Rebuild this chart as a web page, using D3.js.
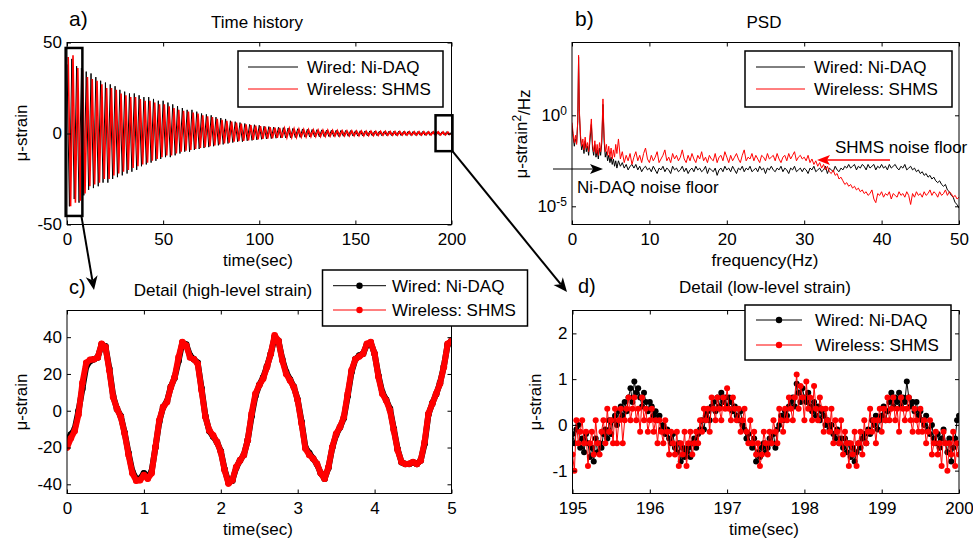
<!DOCTYPE html>
<html lang="en">
<head>
<meta charset="UTF-8">
<title>Wired vs wireless strain</title>
<script src="https://cdn.jsdelivr.net/npm/d3@7"></script>
<style>
    body { margin: 0; background: #fff; }
    text { font-family: "Liberation Sans", Arial, sans-serif; fill: #000; }
</style>
</head>
<body>
<svg id="fig" width="973" height="541"></svg>

<script>

    // a) time history, extrema read every 1.25 s (wireless read half a step later)
    const historyStep = 1.25;
    const wiredHistoryStart = 0;
    const wirelessHistoryStart = 0.625;
    const wiredHistory = [
        38,-40,41,-36,37,-38,36,-34, 34,-31,33,-30,31,-29,29,-27,
        28,-27,27,-25,26,-24,24,-23, 23,-22,22,-21,22,-20,21,-18,
        20,-17,20,-16,19,-15,18,-14, 18,-13,17,-13,16,-12,15,-11,
        14,-10,13,-10,13,-9,12,-8.5, 11,-8,10.5,-7.5,10,-7,9,-6.5,
        8.5,-6,8,-5.5,7,-5,6.5,-4.5, 6,-4.5,5.5,-4,5,-3.8,4.8,-3.5,
        4.5,-3.2,4,-3,3.8,-2.8,3.5,-2.6, 3.4,-2.5,3.2,-2.4,3,-2.3,2.8,-2.2,
        2.6,-2.1,2.5,-2,2.3,-1.9,2.2,-1.8, 2.1,-1.8,2,-1.7,1.9,-1.7,1.8,-1.6,
        1.8,-1.6,1.7,-1.5,1.7,-1.5,1.6,-1.4, 1.5,-1.4,1.5,-1.3,1.4,-1.3,1.4,-1.2,
        1.3,-1.2,1.3,-1.2,1.2,-1.1,1.3,-1.1, 1.2,-1.1,1.2,-1.1,1.1,-1,1.2,-1,
        1.1,-1,1.1,-1,1.1,-1,1,-1, 1,-0.9,1,-1,0.9,-0.9,1,-0.9,
        0.8
    ];
    const wirelessHistory = [
        42,-40,43,-38,36,-37,35,-33, 31,-29,30,-28,29,-27,27,-25,
        25,-25,25,-23,24,-22,22,-21, 21,-20,20,-19,20,-18,19,-17,
        18,-16,18,-15,17,-14,16,-13, 16,-12,15,-12,14,-11,13,-10,
        12.5,-9.5,12,-9,11.5,-8.5,11,-8, 10,-7.5,9.5,-7,9,-6.5,8,-6,
        7.5,-5.5,7,-5,6.5,-4.5,6,-4.2, 5.5,-4,5,-3.8,4.6,-3.5,4.3,-3.2,
        4,-3,3.7,-2.8,3.5,-2.6,3.2,-2.4, 3,-2.3,2.8,-2.2,2.7,-2.1,2.5,-2,
        2.4,-1.9,2.2,-1.8,2.1,-1.7,2,-1.6, 1.9,-1.6,1.8,-1.5,1.8,-1.5,1.7,-1.4,
        1.6,-1.4,1.6,-1.3,1.5,-1.3,1.5,-1.2, 1.4,-1.2,1.4,-1.2,1.3,-1.1,1.3,-1.1,
        1.2,-1.1,1.2,-1,1.2,-1,1.1,-1, 1.1,-1,1.1,-0.9,1,-0.9,1,-0.9,
        1,-0.9,1,-0.9,1,-0.8,0.9,-0.8, 0.9,-0.8,0.9,-0.8,0.9,-0.8,0.8,-0.8
    ];

    // b) PSD, log10 values; low band read at uneven frequencies, then every 0.25 Hz
    const psdLowFreq = [0,0.15,0.3,0.45,0.6,0.75,0.85,0.95,1.1,1.25,
        1.4,1.55,1.7,1.85,2.0,2.15,2.3,2.5,2.65,2.8,
        2.95,3.1,3.25,3.4,3.55,3.7,3.85,4.0,4.15,4.3,
        4.45,4.6,4.75,4.9,5.05,5.2,5.35,5.5,5.65,5.8];
    const psdHighFreq = d3.range(6, 50.001, 0.25);
    const wiredPsdLow = [-0.6,-1.2,-1.7,-1.3,-1.5,-0.3,3.2,0.2,-1.3,-1.9,
        -1.6,-2.1,-1.4,-2.0,-1.7,-2.2,-1.5,-0.5,-1.8,-2.2,
        -1.6,-2.3,-1.9,-2.4,-1.8,-2.2,-1.5,0.6,-1.4,-2.3,
        -2.0,-2.5,-2.2,-2.6,-2.3,-2.7,-2.4,-2.8,-2.5,-2.9];
    const wiredPsdHigh = [
        -2.5,-2.8,-2.6,-2.9,-2.7,-3.0,-2.8,-2.7, -2.9,-2.7,-3.0,-2.8,-3.1,-2.9,-2.8,-3.0,
        -2.9,-3.1,-2.8,-3.0,-3.2,-2.9,-3.0,-2.8, -3.1,-2.9,-3.0,-3.2,-2.8,-3.0,-2.9,-3.1,
        -3.0,-2.8,-3.1,-2.9,-3.2,-3.0,-2.9,-3.1, -2.8,-3.0,-2.9,-3.1,-3.0,-2.8,-3.2,-2.9,
        -3.0,-3.1,-2.9,-3.3,-3.0,-2.9,-3.1,-2.8, -3.0,-2.9,-3.1,-2.8,-3.0,-3.2,-2.9,-3.0,
        -2.8,-3.1,-2.9,-3.0,-2.8,-3.1,-3.0,-2.9, -3.1,-2.8,-3.0,-2.9,-3.2,-2.9,-3.0,-2.8,
        -3.0,-3.1,-2.9,-3.0,-2.8,-3.1,-2.9,-3.0, -3.2,-2.9,-3.0,-2.8,-3.1,-3.0,-2.9,-3.1,
        -2.9,-3.0,-3.2,-2.9,-3.0,-2.8,-3.1,-3.0, -2.9,-3.1,-3.0,-2.8,-3.2,-2.9,-3.0,-3.1,
        -2.8,-3.0,-3.1,-2.9,-3.0,-2.8,-2.9,-2.7, -2.9,-2.8,-2.7,-3.0,-2.8,-2.9,-2.7,-2.8,
        -3.0,-2.7,-2.9,-2.8,-2.7,-3.0,-2.8,-2.9, -2.7,-2.9,-2.8,-3.0,-2.7,-2.9,-2.8,-2.7,
        -2.9,-3.0,-2.8,-2.9,-2.7,-3.0,-2.9,-2.8, -3.0,-2.9,-3.1,-3.0,-3.2,-3.1,-3.3,-3.2,
        -3.4,-3.3,-3.5,-3.4,-3.6,-3.7,-3.6,-3.8, -3.9,-3.8,-4.1,-4.2,-4.4,-4.5,-4.8,-4.9,
        -5.1];
    const wirelessPsdLow = [-0.4,-1.0,-1.5,-1.1,-1.6,-0.2,3.3,0.3,-1.1,-1.7,
        -1.3,-1.9,-1.2,-1.8,-1.5,-2.0,-1.2,-0.2,-1.6,-2.0,
        -1.4,-2.1,-1.6,-2.2,-1.5,-2.0,-1.2,0.9,-1.2,-2.0,
        -1.6,-2.2,-1.7,-2.3,-1.8,-2.4,-1.9,-2.3,-1.6,-2.1];
    const wirelessPsdHigh = [
        -1.3,-2.4,-2.0,-2.6,-2.2,-2.5,-2.1,-2.7, -2.3,-2.0,-2.5,-2.2,-2.6,-2.1,-1.8,-2.4,
        -2.6,-2.2,-2.5,-2.3,-2.0,-2.6,-2.4,-2.2, -1.9,-2.5,-2.3,-2.6,-2.1,-2.4,-2.2,-2.5,
        -2.3,-1.9,-2.4,-2.6,-2.2,-2.5,-2.1,-2.4, -2.6,-2.2,-2.4,-2.0,-2.5,-2.3,-2.6,-2.2,
        -2.4,-2.5,-2.1,-2.6,-2.3,-2.2,-2.5,-2.0, -2.3,-2.6,-2.2,-2.5,-2.3,-2.1,-2.4,-2.6,
        -2.2,-1.9,-2.5,-2.3,-2.4,-2.1,-2.5,-2.2, -2.4,-2.6,-2.2,-2.3,-2.5,-2.1,-2.4,-2.3,
        -2.2,-2.5,-2.1,-2.4,-2.6,-2.3,-2.2,-2.5, -2.1,-2.4,-2.2,-2.0,-2.5,-2.3,-2.2,-2.4,
        -2.3,-2.5,-2.2,-2.6,-2.4,-2.7,-2.5,-2.8, -2.6,-2.9,-2.7,-3.0,-2.8,-3.1,-3.2,-3.0,
        -3.3,-3.2,-3.5,-3.4,-3.6,-3.8,-3.7,-3.9, -3.8,-4.0,-3.9,-4.1,-4.0,-4.2,-4.1,-4.3,
        -4.2,-4.4,-4.3,-4.1,-4.6,-4.8,-4.3,-4.4, -4.2,-4.5,-4.3,-4.4,-4.2,-4.6,-4.3,-4.4,
        -4.5,-4.2,-4.4,-4.3,-4.5,-4.2,-4.4,-4.9, -4.3,-4.5,-4.2,-4.4,-4.3,-4.5,-4.2,-4.4,
        -4.3,-4.1,-4.4,-4.2,-4.3,-4.5,-4.2,-4.4, -4.3,-4.1,-4.4,-4.2,-4.3,-4.5,-4.4,-4.6,
        -4.5];

    // c) detail 0-5 s, every 0.05 s
    const highStep = 0.05;
    const wiredHigh = [-16,-13,-10,0,12,24,27,28,29,36,
        35,23,8,1,-3,-12,-23,-33,-37,-37,
        -34,-36,-33,-20,-6,2,5,13,18,27,
        37,36,30,28,26,12,-3,-11,-14,-17,
        -22,-32,-39,-38,-31,-27,-24,-16,-3,8,
        14,18,24,31,40,38,28,21,17,13,
        6,-6,-20,-23,-26,-29,-34,-37,-31,-20,
        -13,-9,-4,8,21,28,30,31,36,37,
        31,19,10,6,1,-10,-21,-28,-29,-29,
        -28,-29,-27,-18,-2,4,9,15,24,36,
        38];
    const wirelessHigh = [-20,-15,-11,-2,15,26,27.7,28,29,36.4,
        34.6,22,7.4,1,-3.4,-12.5,-24,-34,-38,-37.8,
        -35,-37,-34,-19.7,-5.2,2,4.7,12.8,18.3,29,
        37.3,35.5,29,28,25.5,11,-3.4,-10.7,-13.4,-17,
        -22.4,-32.4,-39.6,-37.8,-30.6,-27,-24,-16,-1.6,9.2,
        13.8,17.4,23.7,31,41,38,27.3,20,16.5,12.8,
        5.6,-7,-20.6,-24,-26,-28.8,-34,-37,-30.6,-19.7,
        -12.5,-8.9,-3.4,9.2,22,28,29.5,31,36.4,37.3,
        31,18.3,9.2,5.6,0.2,-10.7,-21.5,-27.9,-29,-28.8,
        -27.9,-29,-27,-17,-1.6,3.8,9.2,14.7,23.7,36.4,
        38];

    // d) detail 195-200 s, every 0.025 s
    const lowStart = 195;
    const lowStep = 0.025;
    const wiredLow = [
        -0.2,-0.4,-0.1,0.0,-0.5,-0.3,-0.6,-0.2,-0.4,-0.7,-0.5,-0.8,-0.3,-0.6,-0.4,-0.5,-0.2,-0.1,-0.3,0.1,
        -0.2,0.1,0.2,0.0,0.3,0.4,0.2,0.5,0.3,0.6,0.8,0.5,0.95,0.7,0.8,0.6,0.4,0.7,0.5,0.3,
        0.5,0.4,0.2,0.3,0.1,0.2,-0.1,0.0,-0.2,-0.1,-0.3,-0.4,-0.2,-0.5,-0.6,-0.4,-0.8,-0.5,-0.7,-0.6,
        -0.5,-0.7,-0.4,-0.3,-0.5,-0.2,-0.1,0.1,-0.1,0.2,0.3,0.1,0.4,0.5,0.3,0.6,0.4,0.7,0.5,0.6,
        0.4,0.6,0.5,0.3,0.4,0.2,0.1,0.3,0.0,-0.1,-0.3,-0.2,-0.4,-0.5,-0.3,-0.8,-0.6,-0.7,-0.5,-0.4,
        -0.6,-0.5,-0.3,-0.4,-0.2,-0.5,-0.1,0.0,0.2,0.1,0.3,0.2,0.4,0.5,0.6,0.4,0.9,0.7,0.5,0.8,
        0.6,0.5,0.7,0.4,0.3,0.5,0.2,0.4,0.1,0.3,0.2,0.0,0.1,-0.1,0.0,-0.2,-0.3,-0.1,-0.4,-0.3,
        -0.5,-0.3,-0.6,-0.4,-0.7,-0.5,-0.8,-0.6,-0.4,-0.5,-0.3,-0.2,-0.4,-0.1,-0.2,0.1,0.0,0.2,-0.1,0.1,
        0.2,0.4,0.1,0.3,0.5,0.7,0.4,0.6,0.5,0.7,0.4,0.6,0.5,0.95,0.6,0.4,0.5,0.3,0.5,0.2,
        0.3,0.1,0.0,0.2,-0.1,-0.2,0.0,-0.3,-0.4,-0.2,-0.5,-0.3,-0.1,-0.4,-0.6,-0.3,-0.8,-0.5,-0.3,0.1,
        0.2];
    const wirelessLow = [
        -0.65,-1.0,0.1,-0.4,-0.15,0.1,-0.4,-0.15,-0.9,-0.4,-0.15,-0.65,0.1,-0.4,-0.65,-0.15,0.1,-0.4,0.35,-0.15,
        0.1,-0.4,0.35,-0.4,0.1,0.35,-0.4,0.1,0.35,0.6,0.1,0.35,0.6,0.1,0.35,-0.15,0.6,0.1,0.35,-0.15,
        0.1,0.35,-0.15,0.1,-0.4,0.1,-0.15,-0.4,0.1,-0.15,-0.65,-0.15,-0.4,-0.65,-0.15,-0.9,-0.4,-0.65,-0.15,-0.9,
        -0.4,-0.15,-0.65,-0.4,-0.15,-0.4,0.1,-0.15,0.35,0.1,0.35,-0.15,0.6,0.35,0.1,0.6,0.35,0.1,0.6,0.35,
        0.8,0.35,0.1,0.6,0.35,0.1,0.35,-0.15,0.1,0.35,-0.15,-0.4,0.1,-0.4,-0.15,-0.65,-0.4,-0.9,-0.65,-0.15,
        -0.4,-0.65,-0.15,-0.4,0.1,-0.15,-0.4,0.35,0.1,-0.15,0.35,0.1,0.6,0.35,0.1,0.6,1.1,0.35,0.85,0.6,
        0.1,0.95,0.35,0.6,0.1,0.85,0.35,0.1,0.6,0.35,-0.15,0.35,0.1,-0.15,0.35,-0.4,0.1,-0.15,-0.4,0.1,
        -0.65,-0.15,-0.4,-0.9,-0.4,-0.65,-0.15,-0.9,-0.4,-0.15,-0.65,0.1,-0.4,-0.15,0.35,-0.15,0.1,-0.4,0.1,0.35,
        -0.15,0.35,0.1,0.6,0.1,0.35,0.6,0.1,0.35,-0.15,0.6,0.35,0.1,0.35,0.6,0.1,-0.15,0.35,0.1,-0.15,
        0.35,-0.15,0.1,-0.4,-0.15,0.1,-0.65,-0.4,-0.15,-0.65,-0.4,-0.9,-0.15,-0.4,-1.0,-0.4,-0.65,-0.15,-0.9,-0.4,
        -0.65];

    // ticks
    const ticksAx = [0, 50, 100, 150, 200];
    const ticksAy = [-50, 0, 50];
    const ticksBx = [0, 10, 20, 30, 40, 50];
    const ticksBexp = [-5, 0];
    const ticksCx = [0, 1, 2, 3, 4, 5];
    const ticksCy = [-40, -20, 0, 20, 40];
    const ticksDx = [195, 196, 197, 198, 199, 200];
    const ticksDy = [-1, 0, 1, 2];

    const seriesNames = ["Wired: Ni-DAQ", "Wireless: SHMS"];
    const seriesColors = ["#000000", "#ff0000"];

    const svg = d3.select("#fig");
    const FS = 17;

    const xA = d3.scaleLinear([0, 200], [67, 451.5]);
    const yA = d3.scaleLinear([-50, 50], [224.5, 42.5]);
    const xB = d3.scaleLinear([0, 50], [572, 959]);
    const yB = d3.scaleLog([1e-6, 1e4], [224.5, 42.5]);
    const xC = d3.scaleLinear([0, 5], [67, 451.5]);
    const yC = d3.scaleLinear([-45, 54.5], [493.5, 310.5]);
    const xD = d3.scaleLinear([195, 200], [572.5, 959]);
    const yD = d3.scaleLinear([-1.5, 2.5], [493.5, 310.5]);

    let clipCount = 0;
    function panel(x, y) {
        const [x0, x1] = x.range();
        const [yb, yt] = y.range();
        const g = svg.append("g");
        const id = "clip" + (clipCount++);
        g.append("clipPath").attr("id", id).append("rect")
            .attr("x", x0).attr("y", yt).attr("width", x1 - x0).attr("height", yb - yt);
        const plot = g.append("g").attr("clip-path", "url(#" + id + ")");
        return {g: g, plot: plot, x0: x0, x1: x1, yb: yb, yt: yt};
    }

    function frame(p, x, y, xt, yt, yFmt) {
        const fmt = function(d) { return String(d); };
        const styleAxis = function(a) {
            a.select(".domain").remove();
            a.attr("font-size", FS).attr("font-family", null);
            a.selectAll(".tick line").attr("stroke", "#000");
        };
        p.g.append("g").attr("transform", "translate(0," + p.yb + ")")
            .call(d3.axisBottom(x).tickValues(xt).tickSize(-4).tickPadding(8.5).tickFormat(fmt)).call(styleAxis);
        p.g.append("g").attr("transform", "translate(0," + p.yt + ")")
            .call(d3.axisTop(x).tickValues(xt).tickSize(-4).tickFormat("")).call(styleAxis);
        p.g.append("g").attr("transform", "translate(" + p.x0 + ",0)")
            .call(d3.axisLeft(y).tickValues(yt).tickSize(-4).tickPadding(5).tickFormat(yFmt || fmt)).call(styleAxis);
        p.g.append("g").attr("transform", "translate(" + p.x1 + ",0)")
            .call(d3.axisRight(y).tickValues(yt).tickSize(-4).tickFormat("")).call(styleAxis);
        p.g.append("rect").attr("x", p.x0).attr("y", p.yt)
            .attr("width", p.x1 - p.x0).attr("height", p.yb - p.yt)
            .attr("fill", "none").attr("stroke", "#000").attr("stroke-width", 1);
    }

    function label(txt, x, y, size, anchor) {
        return svg.append("text").attr("x", x).attr("y", y)
            .attr("font-size", size).attr("text-anchor", anchor || "middle").text(txt);
    }

    function yLabel(txt, x, y) {
        return svg.append("text").attr("transform", "translate(" + x + "," + y + ") rotate(-90)")
            .attr("font-size", FS).attr("text-anchor", "middle").text(txt);
    }

    function legend(x, y, w, h, rowY, lx0, lx1, tx, markers) {
        const g = svg.append("g");
        g.append("rect").attr("x", x).attr("y", y).attr("width", w).attr("height", h)
            .attr("fill", "#fff").attr("stroke", "#000").attr("stroke-width", 1.5);
        seriesNames.forEach(function(name, i) {
            g.append("line").attr("x1", lx0).attr("x2", lx1).attr("y1", rowY[i]).attr("y2", rowY[i])
                .attr("stroke", seriesColors[i]).attr("stroke-width", 1);
            if (markers) {
                g.append("circle").attr("cx", (lx0 + lx1) / 2).attr("cy", rowY[i]).attr("r", 3.2)
                    .attr("fill", seriesColors[i]);
            }
            g.append("text").attr("x", tx).attr("y", rowY[i]).attr("dy", "0.36em")
                .attr("font-size", FS).text(name);
        });
    }

    function arrow(x1, y1, x2, y2, color, width, len, half, notch) {
        const a = Math.atan2(y2 - y1, x2 - x1);
        const ux = Math.cos(a), uy = Math.sin(a), px = -uy, py = ux;
        const bx = x2 - ux * len, by = y2 - uy * len;
        const nx = x2 - ux * (len - notch), ny = y2 - uy * (len - notch);
        svg.append("line").attr("x1", x1).attr("y1", y1).attr("x2", nx).attr("y2", ny)
            .attr("stroke", color).attr("stroke-width", width);
        svg.append("path")
            .attr("d", "M" + x2 + "," + y2 + "L" + (bx + px * half) + "," + (by + py * half) +
                "L" + nx + "," + ny + "L" + (bx - px * half) + "," + (by - py * half) + "Z")
            .attr("fill", color);
    }

    // ---------- a) Time history
    const pA = panel(xA, yA);
    const historyWidths = [1, 1.6];
    [[wiredHistory, wiredHistoryStart], [wirelessHistory, wirelessHistoryStart]].forEach(function(s, k) {
        pA.plot.append("path")
            .datum(s[0])
            .attr("d", d3.line().x(function(d, i) { return xA(s[1] + i * historyStep); }).y(function(d) { return yA(d); }))
            .attr("fill", "none").attr("stroke", seriesColors[k]).attr("stroke-width", historyWidths[k]);
    });
    frame(pA, xA, yA, ticksAx, ticksAy);
    legend(238, 51, 205, 56, [67, 89], 248, 298, 307, false);
    label("a)", 69, 26, 21, "start");
    label("Time history", 257, 28, FS);
    yLabel("\u03bc-strain", 27, 133);
    label("time(sec)", 258, 266, FS);

    // zoom boxes on panel a
    const zoomBoxes = [{t0: -0.7, t1: 8, v0: -45.3, v1: 47}, {t0: 191.7, t1: 200.5, v0: -9.7, v1: 10}];
    zoomBoxes.forEach(function(b) {
        svg.append("rect").attr("x", xA(b.t0)).attr("y", yA(b.v1))
            .attr("width", xA(b.t1) - xA(b.t0)).attr("height", yA(b.v0) - yA(b.v1))
            .attr("fill", "none").attr("stroke", "#000").attr("stroke-width", 2.5);
    });

    // ---------- b) PSD
    const pB = panel(xB, yB);
    const psdFreq = psdLowFreq.concat(psdHighFreq);
    [wiredPsdLow.concat(wiredPsdHigh), wirelessPsdLow.concat(wirelessPsdHigh)].forEach(function(s, k) {
        pB.plot.append("path")
            .datum(s)
            .attr("d", d3.line().x(function(d, i) { return xB(psdFreq[i]); }).y(function(d) { return yB(Math.pow(10, d)); }))
            .attr("fill", "none").attr("stroke", seriesColors[k]).attr("stroke-width", 1);
    });
    frame(pB, xB, yB, ticksBx, ticksBexp.map(function(e) { return Math.pow(10, e); }), function() { return ""; });
    ticksBexp.forEach(function(e) {
        const t = svg.append("text").attr("x", pB.x0 - 5).attr("y", yB(Math.pow(10, e))).attr("dy", "0.36em")
            .attr("font-size", FS).attr("text-anchor", "end");
        t.append("tspan").text("10");
        t.append("tspan").attr("dy", "-0.55em").attr("font-size", 12).text(String(e));
    });
    legend(745, 51, 207, 56, [67, 89], 756, 805, 814, false);
    label("b)", 575, 26, 21, "start");
    label("PSD", 764, 28, FS);
    const yl = svg.append("text").attr("transform", "translate(527,134) rotate(-90)")
        .attr("font-size", FS).attr("text-anchor", "middle");
    yl.append("tspan").text("\u03bc-strain");
    yl.append("tspan").attr("dy", "-0.5em").attr("font-size", 12).text("2");
    yl.append("tspan").attr("dy", "0.5em").text("/Hz");
    label("frequency(Hz)", 765, 266, FS);

    label("SHMS noise floor", 835, 153, FS, "start");
    arrow(890, 160, 817, 160, "#ff0000", 1.5, 13, 5, 3);
    label("Ni-DAQ noise floor", 577, 193, FS, "start");
    arrow(553, 169, 603, 169, "#000", 1, 13, 5, 3);

    // ---------- c) Detail high-level
    const pC = panel(xC, yC);
    [wiredHigh, wirelessHigh].forEach(function(s, k) {
        const tx = function(d, i) { return xC(i * highStep); };
        pC.plot.append("path")
            .datum(s)
            .attr("d", d3.line().x(tx).y(function(d) { return yC(d); }))
            .attr("fill", "none").attr("stroke", seriesColors[k]).attr("stroke-width", 6)
            .attr("stroke-linejoin", "round").attr("stroke-linecap", "round");
        pC.plot.selectAll(null).data(s).enter().append("circle")
            .attr("cx", tx).attr("cy", function(d) { return yC(d); }).attr("r", 3.3)
            .attr("fill", seriesColors[k]);
    });
    frame(pC, xC, yC, ticksCx, ticksCy);
    label("c)", 69, 294, 20, "start");
    label("Detail (high-level strain)", 223, 296, FS);
    yLabel("\u03bc-strain", 27, 402);
    label("time(sec)", 258, 535, FS);

    // ---------- d) Detail low-level
    const pD = panel(xD, yD);
    [wiredLow, wirelessLow].forEach(function(s, k) {
        const tx = function(d, i) { return xD(lowStart + i * lowStep); };
        pD.plot.append("path")
            .datum(s)
            .attr("d", d3.line().x(tx).y(function(d) { return yD(d); }))
            .attr("fill", "none").attr("stroke", seriesColors[k]).attr("stroke-width", 1);
        pD.plot.selectAll(null).data(s).enter().append("circle")
            .attr("cx", tx).attr("cy", function(d) { return yD(d); }).attr("r", 3)
            .attr("fill", seriesColors[k]);
    });
    frame(pD, xD, yD, ticksDx, ticksDy);
    label("d)", 578, 293, 20, "start");
    label("Detail (low-level strain)", 765, 293, FS);
    yLabel("\u03bc-strain", 541, 402);
    label("time(sec)", 764, 535, FS);

    // legends for c and d drawn on top
    legend(322.5, 270, 205, 56, [285.7, 310], 333, 386, 392, true);
    legend(745, 305, 206, 55, [320, 345], 756, 802, 815, true);

    // arrows from the zoom boxes
    arrow(xA(8) - 1, yA(-45.3), 94, 290, "#000", 2, 14, 6, 4);
    arrow(xA(200.5), yA(-9.7), 567, 292, "#000", 2, 14, 6, 4);

</script>

</body>
</html>
